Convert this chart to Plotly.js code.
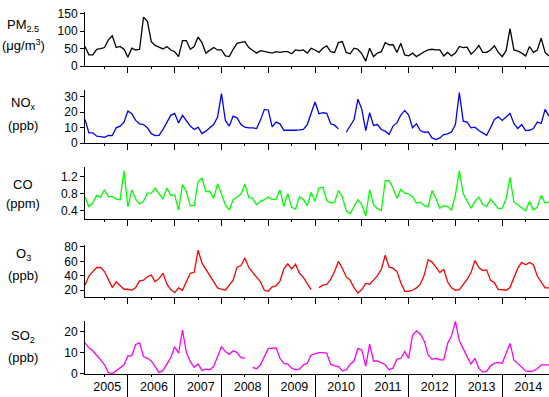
<!DOCTYPE html>
<html>
<head>
<meta charset="utf-8">
<script src="https://cdn.plot.ly/plotly-3.0.1.min.js"></script>
<style>html,body{margin:0;padding:0;background:#fff;}#chart{width:549px;height:397px;}</style>
</head>
<body>
<div id="chart"></div>
<script>
// Monthly series, Jan 2005 - Dec 2014 (index 0..119)
const years = [2005, 2006, 2007, 2008, 2009, 2010, 2011, 2012, 2013, 2014];

const pm25 = [56,32,32,48,50,53,75,87,53,56,48,25,51,46,48,140,128,70,59,54,49,56,46,41,
  27,73,73,48,56,83,67,37,46,53,46,46,29,27,48,65,68,70,53,46,37,44,41,39,
  37,41,39,41,41,35,46,44,46,37,51,46,39,51,58,41,39,67,70,39,35,51,48,35,
  14,51,27,37,41,67,61,61,39,65,32,29,37,27,35,41,46,48,46,46,29,39,29,37,
  56,53,54,34,44,59,39,39,46,58,39,27,44,107,46,43,37,29,56,39,46,80,39,29];

const nox = [15.3,6.6,6.6,4.4,4.2,3.7,5,4.8,9.9,11,13.6,20.8,19,14.7,12.5,12,9.9,6.1,4.8,5,8.8,13.1,18,19.3,
  13.1,18,14.7,11,8.8,10.3,6.1,7.7,9.9,12,16.9,32.2,14.7,11,17.5,16.4,12,10.3,9.9,9.9,9.4,14.9,21.9,21.5,
  10.5,13.6,12.5,8.3,8.3,8.1,8.3,8.5,8.8,12,19.7,26.7,19,19.7,19.3,12.5,11.6,9.2,null,7,11.5,15.3,28.5,21.9,
  8.1,19.7,11.4,12,8.8,7.7,5.5,11,13.1,18.2,21.2,18.2,9.9,12.5,8.1,7,7.2,3.3,2.2,3.3,5.5,5.9,7.2,12,
  32.8,14.2,13.6,9.9,10.3,8.1,6.6,5,9.9,15.3,17.1,14.7,16.9,19.3,12.7,9.4,12,8.1,8.3,9.4,13.6,12.7,21.9,17.5];

const co = [0.73,0.50,0.58,0.76,0.72,0.89,0.73,0.73,0.67,0.66,1.33,0.49,0.89,0.67,0.56,0.62,0.81,0.81,0.93,0.81,0.67,0.93,0.76,0.77,
  0.42,1.01,0.85,0.52,0.52,1.08,1.16,0.85,0.85,0.69,1.03,0.79,0.54,0.42,0.66,0.72,0.79,1.02,0.71,0.69,0.54,0.62,0.66,0.72,
  0.66,0.67,0.89,0.50,0.80,0.48,0.44,0.73,0.67,0.52,0.83,0.62,0.93,0.95,0.64,0.58,0.60,0.87,0.73,0.40,0.33,0.50,0.66,0.54,
  0.28,0.89,0.54,0.45,0.40,1.10,1.10,0.93,0.69,0.90,0.81,0.79,0.73,0.58,0.60,0.52,0.49,0.87,0.69,0.46,0.52,0.50,0.42,0.77,
  1.33,0.80,0.62,0.46,0.62,0.72,0.55,0.50,0.67,0.55,0.45,0.46,0.68,1.18,0.60,0.54,0.46,0.40,0.62,0.42,0.48,0.76,0.58,0.60];

const o3 = [27,39.7,45.8,51.4,51.4,45.8,35,23.7,31.7,27,21.4,21.4,20,23.7,33,34,38.7,41,31.7,36.4,43.4,28.4,21,16.7,
  23.3,20,31.7,43.4,44.8,75.3,57.5,49,40.2,31.7,23.3,21.4,20,27,34,51.9,54.2,64.5,51.4,44.8,38.7,31.7,20,18.6,
  24.7,26,32.7,49.5,56.6,49.5,56,43.4,37.8,28.4,21,null,23.7,27,28,35,45.8,59.8,50.5,38.7,34,23.7,16.2,21,
  29.4,28.4,34,40.2,49,68.3,51.9,50.5,45.8,30.3,18.6,18.6,20,23.3,28.4,41,62.2,58.9,51.9,44.4,49,31.7,23.3,20,
  21,28,35,44.4,61.2,51.4,47.2,48.1,34,30.3,21,21,20,23.7,36.4,50.5,58.4,55.2,58.4,55.2,39.7,31.7,23.3,23.3];

const so2 = [14.8,12.4,11,9,6.6,4.3,0.6,0,1.4,3,4.3,8.5,8.7,14,14.8,8.2,7.4,6.1,3.1,0.6,1.6,4.6,7.7,12.9,
  9.8,20.8,10.2,5.8,3.1,4.7,1.6,2.2,1.9,3.5,8.2,12.9,10.6,9.3,11,10.1,7.7,7.4,null,3.1,2.4,4.3,8.2,12.1,
  12.1,12.4,7.4,5,4.6,2.7,1.9,2.2,4.3,5,9,9.4,10.1,10.1,9.8,4.6,3.8,3.5,1.4,1.9,4.6,6.1,12.1,11.3,
  3.5,14.2,6.1,6.1,5,4.3,1.9,2.7,6.9,7.4,10.6,7.4,18.4,20.5,18.9,15.7,9,6.9,7.4,6.6,6.6,14.5,18.1,25,
  15.7,11.7,8.2,4.7,7.4,2.7,0.8,1.1,3.8,5,5.4,5,9.3,14.5,6.6,5,3.1,1.4,1.1,1.4,2.4,4.3,4.3,4.3];

const pmTicks = [0, 50, 100, 150];
const noxTicks = [0, 10, 20, 30];
const coTicks = [0.4, 0.8, 1.2];
const o3Ticks = [20, 40, 60, 80];
const so2Ticks = [0, 10, 20];

const month = pm25.map((_, i) => i);
const yearEnds = years.map((_, k) => 11 + 12 * k);
const midYears = years.map((_, k) => 5 + 12 * k);
const yearCenters = years.map((_, k) => 5.7 + 12 * k);

const FONT = 'Liberation Sans, Arial, sans-serif';
const xr = [0, 119];

function tr(y, color, n) {
  return {x: month, y: y, type: 'scatter', mode: 'lines',
    line: {color: color, width: 1.3}, xaxis: 'x' + (n === 1 ? '' : n), yaxis: 'y' + (n === 1 ? '' : n),
    connectgaps: false, hoverinfo: 'skip', showlegend: false};
}

const data = [
  tr(pm25, '#000000', 1),
  tr(nox, '#0000ff', 2),
  tr(co, '#00ff00', 3),
  tr(o3, '#ff0000', 4),
  tr(so2, '#ff00ff', 5),
  {x: [], y: [], xaxis: 'x6', yaxis: 'y5', type: 'scatter', mode: 'lines', showlegend: false}
];

function xax(n, len) {
  return {range: xr, anchor: 'y' + (n === 1 ? '' : n), domain: [0, 1],
    showline: true, linecolor: '#000', linewidth: 1, showgrid: false, zeroline: false,
    tickmode: 'array', tickvals: yearEnds, ticks: 'outside', ticklen: len, tickwidth: 1, tickcolor: '#000',
    showticklabels: false,
    minor: {tickmode: 'array', tickvals: midYears, ticks: 'outside', ticklen: 2, tickwidth: 1, tickcolor: '#000'}};
}
function yax(domain, range, ticks) {
  return {domain: domain, range: range, tickmode: 'array', tickvals: ticks,
    showline: true, linecolor: '#000', linewidth: 1, showgrid: false, zeroline: false,
    ticks: 'outside', ticklen: 4, tickwidth: 1, tickcolor: '#000',
    tickfont: {family: FONT, size: 12, color: '#000'}};
}

const H = 374;
function dom(top, bottom) { return [(H - bottom) / H, (H - top) / H]; }

const layout = {
  width: 549, height: 397,
  margin: {l: 85, r: 0, t: 0, b: 23, pad: 0},
  paper_bgcolor: '#fff', plot_bgcolor: 'rgba(0,0,0,0)',
  font: {family: FONT, size: 12, color: '#000'},
  xaxis: xax(1, 6), xaxis2: xax(2, 6), xaxis3: xax(3, 6), xaxis4: xax(4, 6), xaxis5: xax(5, 23),
  xaxis6: {range: xr, anchor: 'y5', overlaying: 'x5', showline: false, showgrid: false, zeroline: false,
    tickmode: 'array', tickvals: yearCenters, ticktext: years.map(String), ticks: '',
    ticklabelstandoff: 3,
    tickfont: {family: FONT, size: 12.5, color: '#000'}},
  yaxis: yax(dom(12, 66), [0, 155], pmTicks),
  yaxis2: yax(dom(90, 143), [0, 34.5], noxTicks),
  yaxis3: yax(dom(167, 219), [0.21, 1.42], coTicks),
  yaxis4: yax(dom(245, 297), [10.7, 82.5], o3Ticks),
  yaxis5: yax(dom(321, 374), [-0.1, 25.2], so2Ticks),
  annotations: []
};

const labels = [
  ['PM<sub>2.5</sub>', 25], ['(\u03bcg/m<sup>3</sup>)', 45],
  ['NO<sub>x</sub>', 103], ['(ppb)', 125],
  ['CO', 184], ['(ppm)', 204],
  ['O<sub>3</sub>', 254], ['(ppb)', 275],
  ['SO<sub>2</sub>', 336], ['(ppb)', 357]
];
labels.forEach(([t, ypx]) => {
  layout.annotations.push({text: t, xref: 'paper', yref: 'paper', x: (23 - 85) / 464, y: (H - ypx) / H,
    xanchor: 'center', yanchor: 'middle', showarrow: false, font: {family: FONT, size: 13, color: '#000'}});
});

Plotly.newPlot('chart', data, layout, {staticPlot: true, displayModeBar: false});
</script>
</body>
</html>
